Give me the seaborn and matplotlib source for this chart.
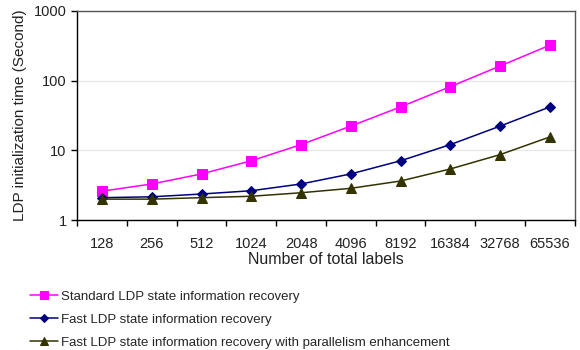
import matplotlib
matplotlib.use("Agg")
import matplotlib.pyplot as plt
import seaborn as sns
import pandas as pd
from matplotlib.ticker import FixedLocator

categories = ["128", "256", "512", "1024", "2048", "4096", "8192", "16384", "32768", "65536"]
standard = [2.6, 3.3, 4.6, 7.1, 12.1, 22.3, 42, 82, 162, 322]
fast = [2.1, 2.16, 2.37, 2.64, 3.3, 4.6, 7.1, 12.1, 22.3, 42]
parallel = [2.0, 2.0, 2.1, 2.2, 2.47, 2.86, 3.64, 5.42, 8.7, 15.6]

series_names = ["Standard LDP state information recovery",
                "Fast LDP state information recovery",
                "Fast LDP state information recovery with parallelism enhancement"]

rows = []
for name, vals in zip(series_names, [standard, fast, parallel]):
    for c, v in zip(categories, vals):
        rows.append({"labels": c, "time": v, "series": name})
df = pd.DataFrame(rows)

sns.set_theme(style="white")
plt.rcParams["font.family"] = ["Liberation Sans", "DejaVu Sans"]

fig = plt.figure(figsize=(5.8, 3.5), dpi=100)
ax = fig.add_axes([0.133, 0.371, 0.858, 0.598])

palette = {series_names[0]: "#FF00FF", series_names[1]: "#000080", series_names[2]: "#333300"}
markers = {series_names[0]: "s", series_names[1]: "D", series_names[2]: "^"}
sizes = {series_names[0]: 7, series_names[1]: 5, series_names[2]: 7}

for name in series_names:
    sub = df[df["series"] == name]
    sns.lineplot(data=sub, x="labels", y="time", ax=ax, color=palette[name],
                 marker=markers[name], markersize=sizes[name], markeredgecolor=palette[name],
                 linewidth=1.1, sort=False, label=name, legend=False)

ax.set_yscale("log")
ax.set_ylim(1, 1000)
ax.set_xlim(-0.5, len(categories) - 0.5)
ax.yaxis.set_major_locator(FixedLocator([1, 10, 100, 1000]))
ax.set_yticklabels(["1", "10", "100", "1000"])
ax.yaxis.set_minor_locator(FixedLocator([]))
ax.set_xticks(range(len(categories)))
ax.set_xticklabels(categories)
ax.set_xticks([i - 0.5 for i in range(len(categories) + 1)], minor=True)
ax.tick_params(axis="x", which="major", length=0, labelsize=10.5, pad=12, colors="#222222")
ax.tick_params(axis="x", which="minor", length=4, width=1, direction="out", color="black", bottom=True)
ax.tick_params(axis="y", which="major", length=4, width=1, direction="out", labelsize=10.5, colors="#222222", left=True)
ax.tick_params(axis="y", which="major", color="black")

ax.grid(axis="y", which="major", color="#e6e6e6", linewidth=0.8)
for s in ["left", "bottom"]:
    ax.spines[s].set_color("black")
    ax.spines[s].set_linewidth(1.0)
for s in ["top", "right"]:
    ax.spines[s].set_color("#555555")
    ax.spines[s].set_linewidth(1.0)

ax.set_xlabel("Number of total labels", fontsize=11.5, color="#222222", labelpad=1)
ax.set_ylabel("LDP initialization time (Second)", fontsize=11, color="#222222", labelpad=5)

handles, labels = ax.get_legend_handles_labels()
fig.legend(handles, labels, loc="upper left", bbox_to_anchor=(0.052, 0.169),
           frameon=False, fontsize=9.5, handlelength=2.1, handletextpad=0.2,
           labelspacing=0.81, borderaxespad=0, borderpad=0, markerscale=0.75)

fig.savefig("out.png", dpi=100)
